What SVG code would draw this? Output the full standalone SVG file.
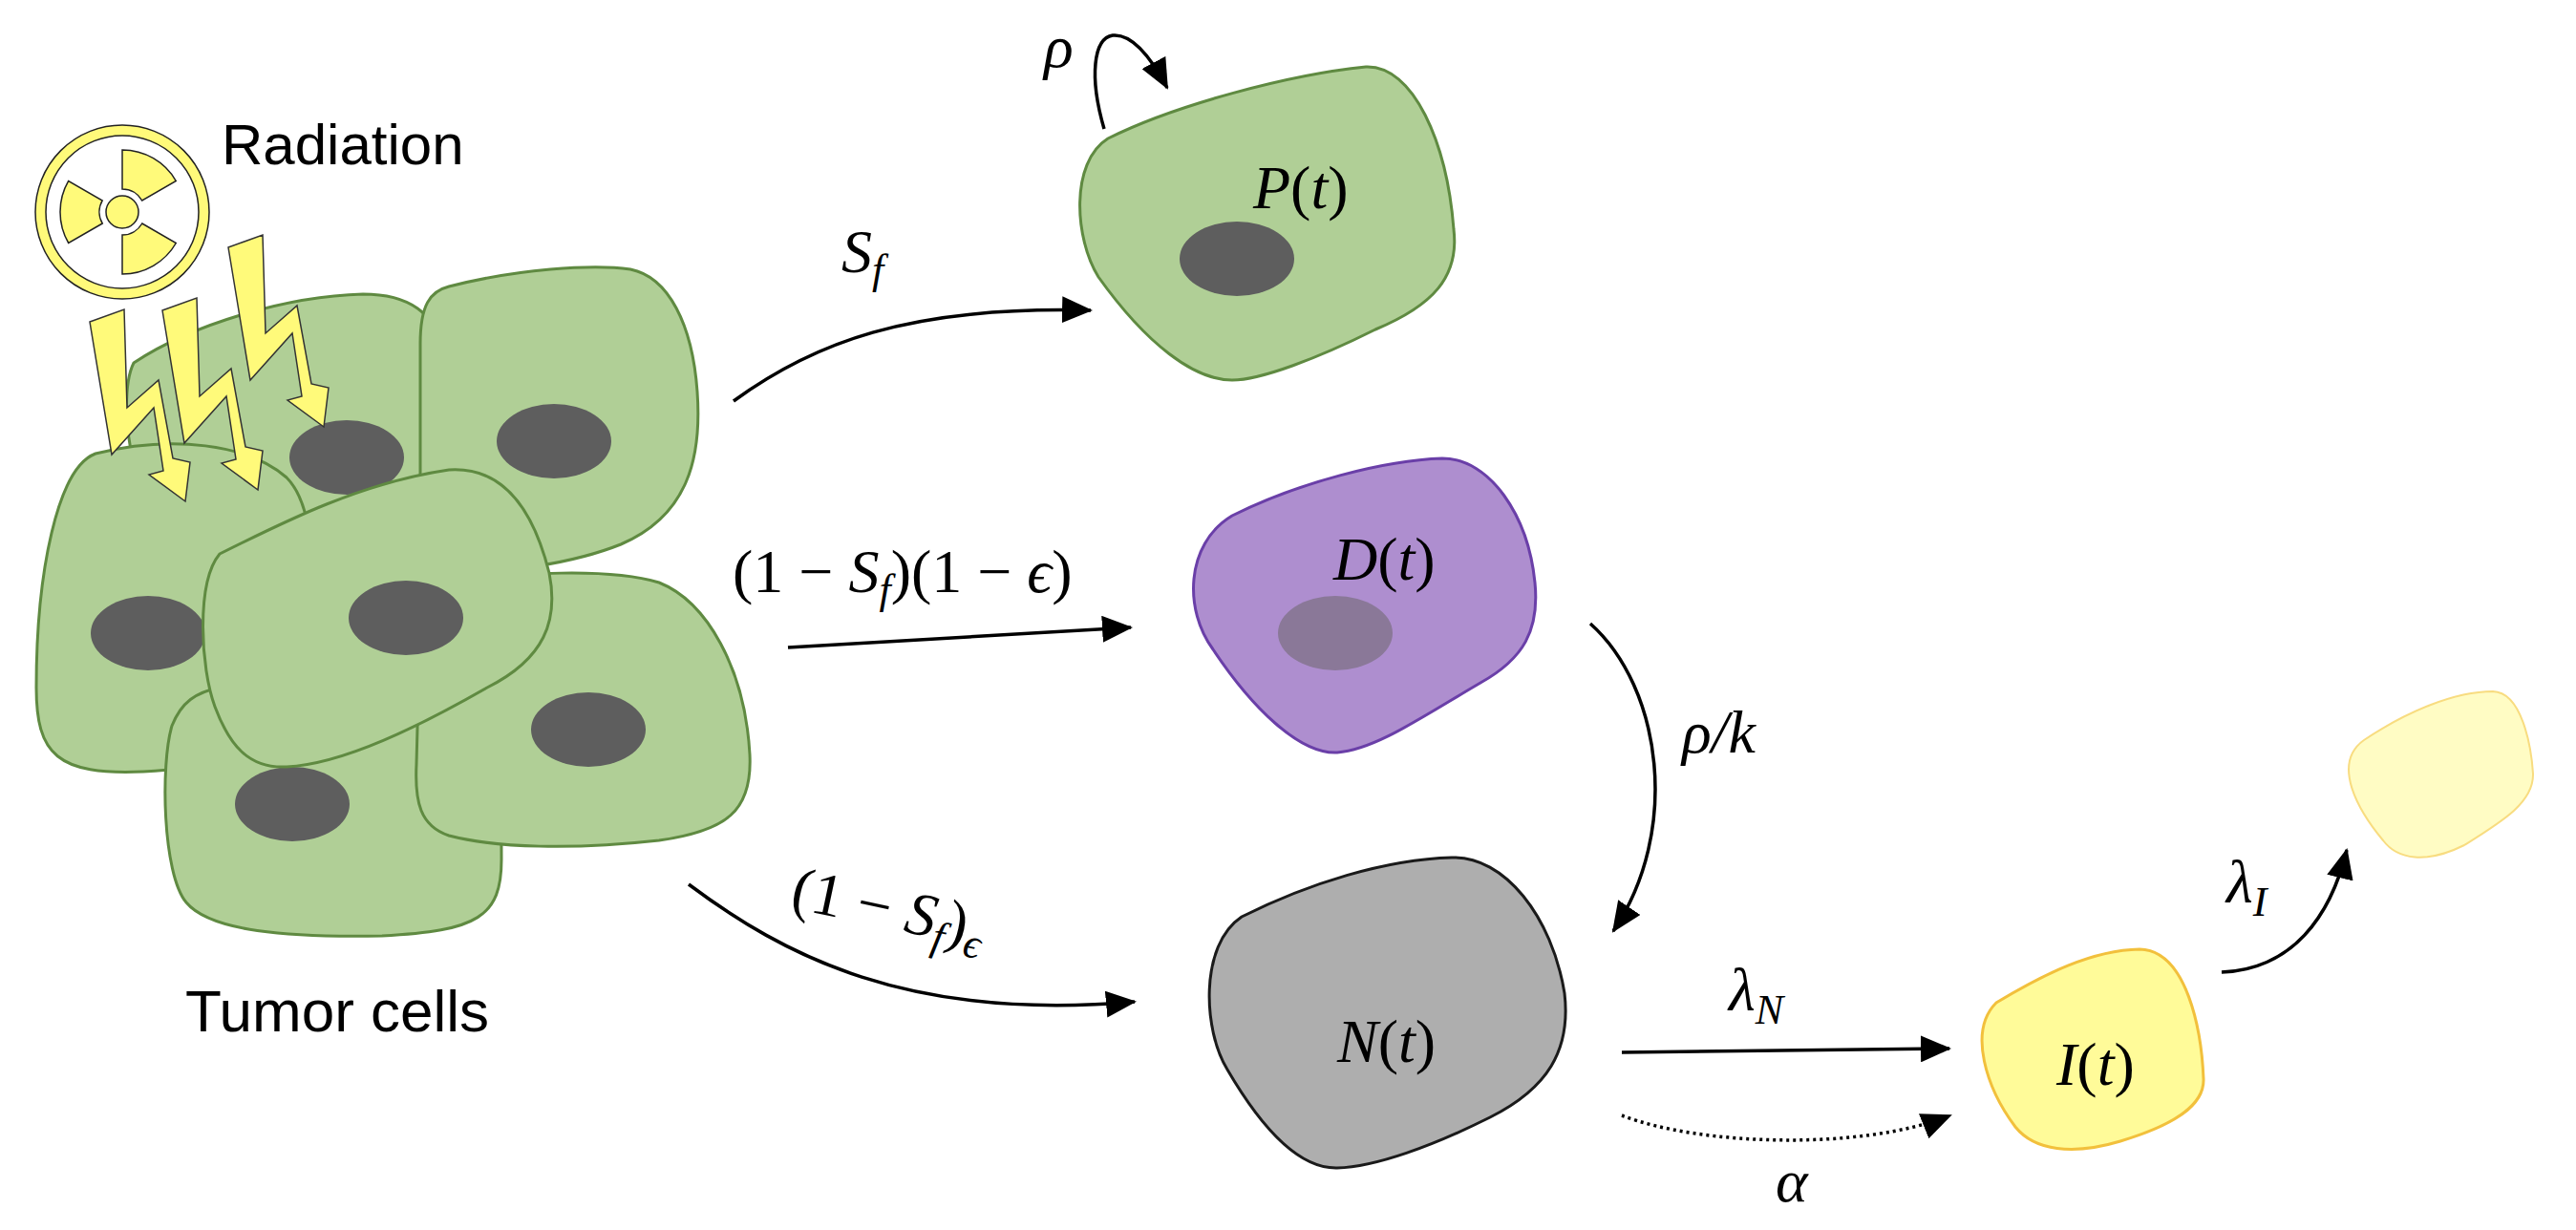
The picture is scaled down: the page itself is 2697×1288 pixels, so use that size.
<svg xmlns="http://www.w3.org/2000/svg" width="2697" height="1288" viewBox="0 0 2697 1288">
<style>
.cell{fill:#b0cf96;stroke:#5f8a41;stroke-width:3}
.nuc{fill:#5e5e5e}
.bolt{fill:#fffa7a;stroke:#333;stroke-width:1.5;stroke-linejoin:miter}
.lbl{font-family:"Liberation Sans",Arial,sans-serif;font-size:60px;fill:#000}
.m{font-family:"Liberation Serif","DejaVu Serif",serif;font-size:64px;fill:#000}
.it{font-style:italic}
.conn{fill:none;stroke:#000;stroke-width:3.5}
</style>
<defs>
<marker id="ah" markerUnits="userSpaceOnUse" markerWidth="34" markerHeight="28" refX="30" refY="14" orient="auto">
<path d="M0,0 L32,14 L0,28 Z" fill="#000"/>
</marker>
</defs>
<rect width="2697" height="1288" fill="#fff"/>

<g id="tumor">
<path class="cell" d="M140,380 C200,340 300,310 380,308 C430,308 455,330 460,360 L460,560 L200,560 C140,560 120,420 140,380 Z"/>
<ellipse class="nuc" cx="363" cy="479" rx="60" ry="39"/>
<path class="cell" d="M470,300 C540,282 620,276 660,282 C700,290 725,340 730,410 C735,480 720,540 650,570 C600,590 530,600 470,600 C450,600 440,560 440,500 L440,360 C440,320 450,305 470,300 Z"/>
<ellipse class="nuc" cx="580" cy="462" rx="60" ry="39"/>
<path class="cell" d="M100,475 C180,455 260,465 300,500 C330,530 330,600 325,700 C320,780 280,800 150,808 C60,812 38,790 38,720 C38,600 60,490 100,475 Z"/>
<ellipse class="nuc" cx="155" cy="663" rx="60" ry="39"/>
<path class="cell" d="M230,720 C300,705 420,705 480,715 C520,725 525,780 525,900 C525,960 500,975 400,980 C300,982 220,975 195,945 C170,915 168,800 180,760 C190,735 205,725 230,720 Z"/>
<ellipse class="nuc" cx="306" cy="842" rx="60" ry="39"/>
<path class="cell" d="M470,612 C540,598 640,595 690,610 C740,630 780,700 785,790 C788,850 760,870 690,880 C600,890 520,888 470,875 C440,865 434,840 436,800 L440,650 C442,625 455,615 470,612 Z"/>
<ellipse class="nuc" cx="616" cy="764" rx="60" ry="39"/>
<path class="cell" d="M230,580 C300,545 380,505 470,492 C530,488 560,540 575,600 C585,650 570,690 510,720 C440,760 360,800 300,803 C260,805 240,780 225,740 C210,700 205,610 230,580 Z"/>
<ellipse class="nuc" cx="425" cy="647" rx="60" ry="39"/>
<text class="lbl" x="194" y="1080" style="font-size:62px">Tumor cells</text>
</g>

<g id="radiation">
<circle cx="128" cy="222" r="91" fill="#fffa7a" stroke="#222" stroke-width="1.5"/>
<circle cx="128" cy="222" r="80" fill="#fff" stroke="#222" stroke-width="1.5"/>
<g fill="#fffa7a" stroke="#222" stroke-width="1.5">
<circle cx="128" cy="222" r="17"/>
<path d="M128,198 L128,157 A65,65 0 0 1 184.3,189.5 L148.8,210 A24,24 0 0 0 128,198 Z"/>
<path d="M128,198 L128,157 A65,65 0 0 1 184.3,189.5 L148.8,210 A24,24 0 0 0 128,198 Z" transform="rotate(120 128 222)"/>
<path d="M128,198 L128,157 A65,65 0 0 1 184.3,189.5 L148.8,210 A24,24 0 0 0 128,198 Z" transform="rotate(240 128 222)"/>
</g>
<text class="lbl" x="232" y="172" style="font-size:60px">Radiation</text>
<polygon class="bolt" points="94,337 130,324 133,427 166,398 181,480 199,484 194,525 156,497 171,493 161,427 117,476"/>
<polygon class="bolt" transform="translate(76,-12)" points="94,337 130,324 133,427 166,398 181,480 199,484 194,525 156,497 171,493 161,427 117,476"/>
<polygon class="bolt" transform="translate(145,-78)" points="94,337 130,324 133,427 166,398 181,480 199,484 194,525 156,497 171,493 161,427 117,476"/>
</g>

<g id="P">
<path d="M1160,145 C1230,110 1350,78 1430,70 C1480,68 1515,150 1522,240 C1528,290 1500,320 1440,345 C1380,375 1320,398 1290,398 C1250,398 1200,360 1150,290 C1125,250 1120,170 1160,145 Z" fill="#b0cf96" stroke="#5f8a41" stroke-width="3"/>
<ellipse class="nuc" cx="1295" cy="271" rx="60" ry="39"/>
<text class="m" x="1312" y="218"><tspan class="it">P</tspan>(<tspan class="it">t</tspan>)</text>
</g>
<g id="D">
<path d="M1290,540 C1360,505 1450,482 1510,480 C1560,480 1600,540 1607,610 C1612,660 1595,690 1550,715 C1490,750 1440,785 1400,788 C1360,790 1310,740 1270,680 C1240,640 1240,570 1290,540 Z" fill="#ae8ecf" stroke="#6a3fa8" stroke-width="3"/>
<ellipse cx="1398" cy="663" rx="60" ry="39" fill="#8a7898"/>
<text class="m" x="1396" y="607"><tspan class="it">D</tspan>(<tspan class="it">t</tspan>)</text>
</g>
<g id="N">
<path d="M1300,960 C1370,925 1450,900 1520,898 C1575,896 1625,960 1638,1040 C1645,1100 1620,1140 1560,1170 C1500,1200 1440,1222 1400,1223 C1360,1224 1320,1180 1285,1120 C1260,1080 1255,990 1300,960 Z" fill="#aeaeae" stroke="#1a1a1a" stroke-width="3"/>
<text class="m" x="1400" y="1112"><tspan class="it">N</tspan>(<tspan class="it">t</tspan>)</text>
</g>
<g id="I">
<path d="M2090,1050 C2140,1020 2190,995 2240,994 C2290,995 2305,1080 2307,1130 C2308,1160 2270,1180 2220,1195 C2170,1210 2130,1205 2110,1180 C2080,1140 2060,1080 2090,1050 Z" fill="#fffb99" stroke="#f2c03c" stroke-width="3"/>
<text class="m" x="2153" y="1136"><tspan class="it">I</tspan>(<tspan class="it">t</tspan>)</text>
</g>
<g id="faded">
<path d="M2475,775 C2520,745 2570,724 2610,724 C2640,725 2650,780 2652,810 C2653,840 2620,860 2580,885 C2540,905 2510,900 2495,880 C2470,850 2440,800 2475,775 Z" fill="#fffcc4" stroke="#f8dc80" stroke-width="2"/>
</g>

<g id="connectors">
<path class="conn" d="M1156,135 C1140,80 1145,40 1165,37 C1185,35 1205,60 1222,92" marker-end="url(#ah)"/>
<path class="conn" d="M768,420 C850,360 950,320 1142,325" marker-end="url(#ah)"/>
<path class="conn" d="M825,678 L1184,657" marker-end="url(#ah)"/>
<path class="conn" d="M721,926 C820,1000 950,1070 1188,1049" marker-end="url(#ah)"/>
<path class="conn" d="M1665,653 C1740,720 1760,870 1689,975" marker-end="url(#ah)"/>
<path class="conn" d="M1698,1102 L2041,1098" marker-end="url(#ah)"/>
<path class="conn" d="M1698,1168 C1780,1200 1950,1205 2042,1168" stroke-dasharray="3,4" marker-end="url(#ah)"/>
<path class="conn" d="M2326,1018 C2400,1015 2440,960 2457,890" marker-end="url(#ah)"/>
</g>

<g id="labels">
<text class="m it" x="1093" y="70">ρ</text>
<text class="m" x="881" y="285"><tspan class="it">S</tspan><tspan class="it" font-size="44" dy="12">f</tspan></text>
<text class="m" x="767" y="620">(1 − <tspan class="it">S</tspan><tspan class="it" font-size="44" dy="12">f</tspan><tspan dy="-12">)(1 − </tspan><tspan class="it">ϵ</tspan>)</text>
<text class="m" x="0" y="0" transform="translate(826,950) rotate(12)">(1 − <tspan class="it">S</tspan><tspan class="it" font-size="44" dy="12">f</tspan><tspan dy="-12">)</tspan><tspan class="it" font-size="44" dy="12">ϵ</tspan></text>
<text class="m it" x="1761" y="788">ρ/k</text>
<text class="m it" x="1810" y="1058">λ<tspan font-size="44" dy="14">N</tspan></text>
<text class="m it" x="1859" y="1258">α</text>
<text class="m it" x="2331" y="945">λ<tspan font-size="44" dy="14">I</tspan></text>
</g>
</svg>
